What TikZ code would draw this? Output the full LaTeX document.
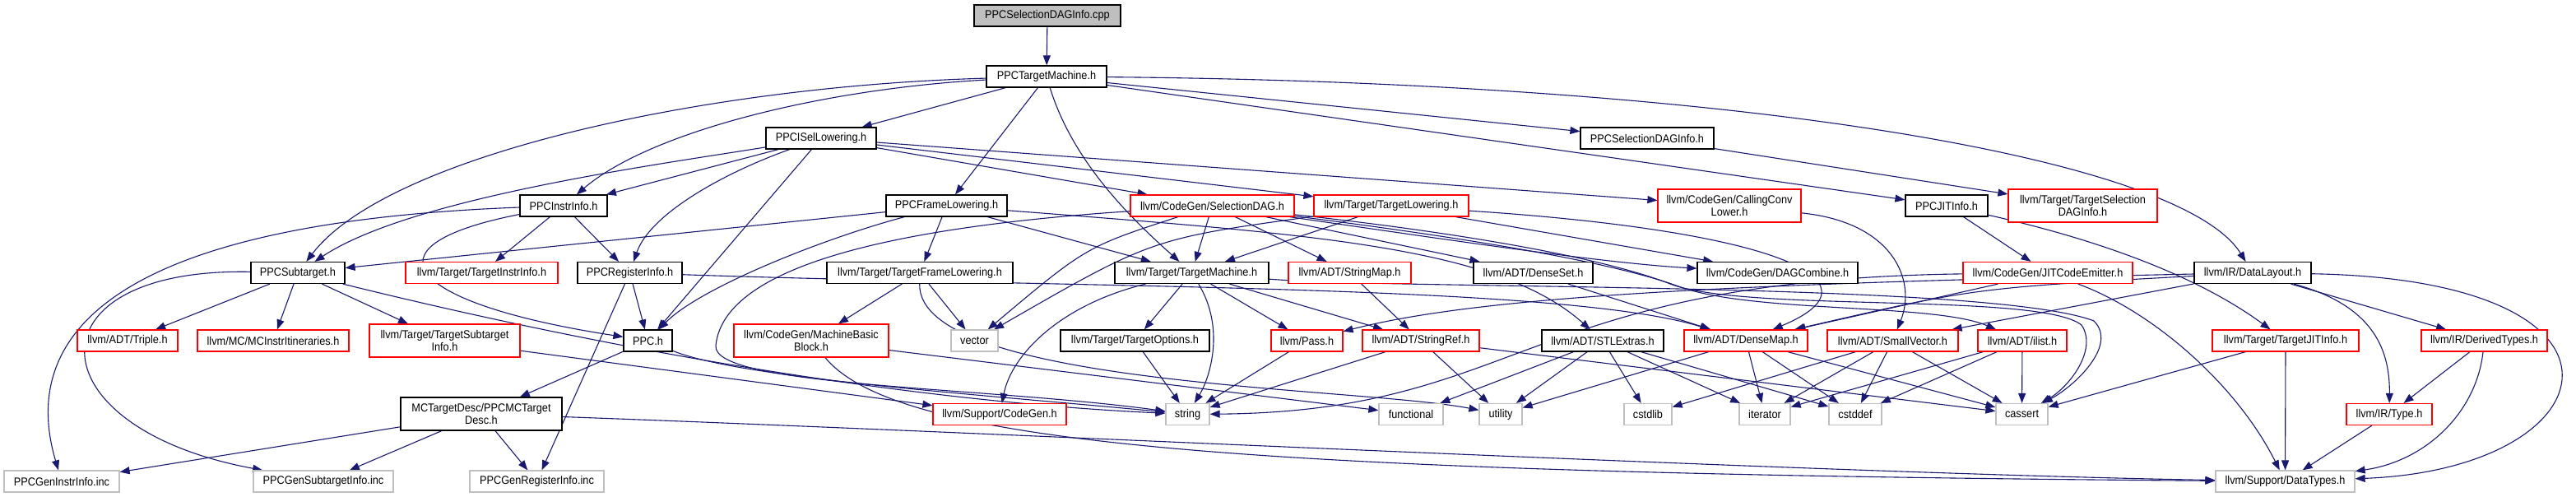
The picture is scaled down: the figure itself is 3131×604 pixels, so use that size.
\documentclass[tikz,border=0pt]{standalone}
\usepackage{fontspec}
\setmainfont{Liberation Sans}[FakeStretch=0.91]
\usetikzlibrary{arrows.meta}
\definecolor{edgec}{HTML}{191970}
\definecolor{grayb}{HTML}{BFBFBF}
\pgfdeclarelayer{bg}
\pgfsetlayers{bg,main}
\tikzset{
 bx/.style={draw=black, line width=1.2bp, inner sep=0pt, minimum height=26bp, font=\fontsize{14bp}{15bp}\selectfont, align=center, fill=white},
 rbx/.style={bx, draw=red},
 gbx/.style={bx, draw=grayb},
 tall/.style={minimum height=40bp},
 ed/.style={draw=edgec, line width=1.1bp, -{Triangle[length=12bp,width=9bp]}},
}
\begin{document}
\begin{tikzpicture}[x=1bp,y=-1bp]
\useasboundingbox (0,0) rectangle (3131,604);
% row 0
\node[bx, fill=grayb, minimum width=178bp] (root) at (1273,19) {PPCSelectionDAGInfo.cpp};
% row 1
\node[bx, minimum width=146bp] (tm) at (1272,93) {PPCTargetMachine.h};
% row 2
\node[bx, minimum width=134bp] (isel) at (998,168) {PPCISelLowering.h};
\node[bx, minimum width=162bp] (sdaginfo) at (2002,168) {PPCSelectionDAGInfo.h};
% row 3
\node[bx, minimum width=106bp] (instr) at (685,250) {PPCInstrInfo.h};
\node[bx, minimum width=147bp] (frame) at (1150.5,250) {PPCFrameLowering.h};
\node[rbx, minimum width=199bp] (seldag) at (1473.5,250) {llvm/CodeGen/SelectionDAG.h};
\node[rbx, minimum width=188bp] (tlow) at (1691,250) {llvm/Target/TargetLowering.h};
\node[rbx, tall, minimum width=174bp] (ccl) at (2102,250) {llvm/CodeGen/CallingConv\\Lower.h};
\node[bx, minimum width=100bp] (jit) at (2366,250) {PPCJITInfo.h};
\node[rbx, tall, minimum width=181bp] (tsdi) at (2531.5,250) {llvm/Target/TargetSelection\\DAGInfo.h};
% row 4
\node[bx, minimum width=114bp] (sub) at (362,331.5) {PPCSubtarget.h};
\node[rbx, minimum width=185bp] (tii) at (585.5,331.5) {llvm/Target/TargetInstrInfo.h};
\node[bx, minimum width=127bp] (reg) at (765.5,331.5) {PPCRegisterInfo.h};
\node[bx, minimum width=226bp] (tfl) at (1118,331.5) {llvm/Target/TargetFrameLowering.h};
\node[bx, minimum width=187bp] (tmach) at (1448.5,331.5) {llvm/Target/TargetMachine.h};
\node[rbx, minimum width=149bp] (smap) at (1640.5,331.5) {llvm/ADT/StringMap.h};
\node[bx, minimum width=145bp] (dset) at (1863.5,331.5) {llvm/ADT/DenseSet.h};
\node[bx, minimum width=195bp] (dagc) at (2160.5,331.5) {llvm/CodeGen/DAGCombine.h};
\node[rbx, minimum width=206bp] (jce) at (2489,331.5) {llvm/CodeGen/JITCodeEmitter.h};
\node[bx, minimum width=142bp] (dl) at (2738,331.5) {llvm/IR/DataLayout.h};
% row 5
\node[rbx, minimum width=122bp] (triple) at (155,414) {llvm/ADT/Triple.h};
\node[rbx, minimum width=184bp] (mcii) at (332,414) {llvm/MC/MCInstrItineraries.h};
\node[rbx, tall, minimum width=183bp] (tsi) at (540.5,414) {llvm/Target/TargetSubtarget\\Info.h};
\node[bx, minimum width=59bp] (ppch) at (787.5,414) {PPC.h};
\node[rbx, tall, minimum width=188bp] (mbb) at (986,414) {llvm/CodeGen/MachineBasic\\Block.h};
\node[gbx, minimum width=57bp] (vector) at (1184.5,414) {vector};
\node[bx, minimum width=181bp] (topt) at (1379.5,414) {llvm/Target/TargetOptions.h};
\node[rbx, minimum width=87bp] (pass) at (1588.5,414) {llvm/Pass.h};
\node[rbx, minimum width=142bp] (sref) at (1727,414) {llvm/ADT/StringRef.h};
\node[bx, minimum width=148bp] (stl) at (1948,414) {llvm/ADT/STLExtras.h};
\node[rbx, minimum width=150bp] (dmap) at (2122,414) {llvm/ADT/DenseMap.h};
\node[rbx, minimum width=159bp] (svec) at (2300.5,414) {llvm/ADT/SmallVector.h};
\node[rbx, minimum width=108bp] (ilist) at (2458,414) {llvm/ADT/ilist.h};
\node[rbx, minimum width=178bp] (tjit) at (2778,414) {llvm/Target/TargetJITInfo.h};
\node[rbx, minimum width=153bp] (dtypes) at (3019.5,414) {llvm/IR/DerivedTypes.h};
% row 6
\node[bx, tall, minimum width=196bp] (mctd) at (585,503) {MCTargetDesc/PPCMCTarget\\Desc.h};
\node[rbx, minimum width=162bp] (cgen) at (1215,503.5) {llvm/Support/CodeGen.h};
\node[gbx, minimum width=53bp] (string) at (1443.5,503.5) {string};
\node[gbx, minimum width=78bp] (functional) at (1715,503.5) {functional};
\node[gbx, minimum width=52bp] (utility) at (1824,503.5) {utility};
\node[gbx, minimum width=58bp] (cstdlib) at (2003,503.5) {cstdlib};
\node[gbx, minimum width=62bp] (iterator) at (2145,503.5) {iterator};
\node[gbx, minimum width=64bp] (cstddef) at (2255,503.5) {cstddef};
\node[gbx, minimum width=63bp] (cassert) at (2457.5,503.5) {cassert};
\node[rbx, minimum width=104bp] (type) at (2904,503.5) {llvm/IR/Type.h};
% row 7
\node[gbx, minimum width=140bp] (genii) at (75,585) {PPCGenInstrInfo.inc};
\node[gbx, minimum width=170bp] (gensti) at (393,585) {PPCGenSubtargetInfo.inc};
\node[gbx, minimum width=163bp] (genri) at (652.5,585) {PPCGenRegisterInfo.inc};
\node[gbx, minimum width=169bp] (datatypes) at (2777.5,585) {llvm/Support/DataTypes.h};

\begin{pgfonlayer}{bg}
\draw[ed] (root) -- (tm);
\draw[ed] (tm) -- (isel);
\draw[ed] (tm) -- (frame);
\draw[ed] (tm) .. controls (1305,200) and (1380,270) .. (tmach);
\draw[ed] (tm) .. controls (1000,108) and (790,160) .. (instr);
\draw[ed] (tm) .. controls (850,105) and (470,190) .. (sub);
\draw[ed] (tm) -- (sdaginfo);
\draw[ed] (tm) -- (jit);
\draw[ed] (tm) .. controls (2100,100) and (2650,190) .. (dl);

\draw[ed] (isel) -- (instr);
\draw[ed] (isel) .. controls (800,200) and (500,240) .. (sub);
\draw[ed] (isel) .. controls (880,210) and (790,260) .. (reg);
\draw[ed] (isel) -- (ppch);
\draw[ed] (isel) -- (seldag);
\draw[ed] (isel) -- (tlow);
\draw[ed] (isel) -- (ccl);

\draw[ed] (instr) -- (tii);
\draw[ed] (instr) -- (reg);
\draw[ed] (instr) .. controls (430,300) and (500,370) .. (ppch);
\draw[ed] (instr) .. controls (150,270) and (20,400) .. (genii);

\draw[ed] (reg) -- (ppch);
\draw[ed] (reg) -- (genri);
\draw[ed] (reg) .. controls (1300,350) and (1900,345) .. (dmap);

\draw[ed] (sub) -- (triple);
\draw[ed] (sub) -- (mcii);
\draw[ed] (sub) -- (tsi);
\draw[ed] (sub) .. controls (30,325) and (40,520) .. (gensti);
\draw[ed] (sub) .. controls (800,440) and (1150,490) .. (string);

\draw[ed] (tsi) -- (cgen);
\draw[ed] (ppch) -- (mctd);
\draw[ed] (ppch) .. controls (900,460) and (1200,480) .. (string);
\draw[ed] (mctd) -- (genii);
\draw[ed] (mctd) -- (gensti);
\draw[ed] (mctd) -- (genri);
\draw[ed] (mctd) .. controls (1200,525) and (2200,575) .. (datatypes);
\draw[ed] (mbb) -- (functional);
\draw[ed] (mbb) .. controls (1090,540) and (1500,575) .. (datatypes);
\draw[ed] (tfl) -- (mbb);
\draw[ed] (tfl) -- (vector);
\draw[ed] (tfl) .. controls (1115,470) and (1650,470) .. (utility);

\draw[ed] (frame) .. controls (1000,290) and (850,350) .. (ppch);
\draw[ed] (frame) -- (sub);
\draw[ed] (frame) -- (tfl);
\draw[ed] (frame) -- (tmach);
\draw[ed] (frame) .. controls (1600,285) and (1820,300) .. (stl);

\draw[ed] (seldag) -- (tmach);
\draw[ed] (seldag) -- (smap);
\draw[ed] (seldag) -- (dset);
\draw[ed] (seldag) .. controls (1320,300) .. (vector);
\draw[ed] (seldag) .. controls (1100,275) and (880,320) .. (870,420) .. controls (865,470) and (1200,470) .. (string);
\draw[ed] (seldag) .. controls (1750,290) and (1950,320) .. (dagc);
\draw[ed] (seldag) .. controls (1750,285) and (1950,315) .. (2040,348) .. controls (2130,381) and (2350,368) .. (ilist);
\draw[ed] (seldag) .. controls (1750,280) and (1940,310) .. (2030,345) .. controls (2120,380) and (2480,355) .. (2530,395) .. controls (2550,425) and (2515,470) .. (cassert);

\draw[ed] (tlow) -- (tmach);
\draw[ed] (tlow) -- (dagc);
\draw[ed] (tlow) .. controls (2150,280) and (2300,340) .. (dmap);
\draw[ed] (tlow) .. controls (1400,290) .. (vector);
\draw[ed] (ccl) .. controls (2300,270) and (2330,340) .. (svec);
\draw[ed] (jit) -- (jce);
\draw[ed] (jit) .. controls (2500,280) and (2650,320) .. (tjit);
\draw[ed] (sdaginfo) -- (tsdi);

\draw[ed] (tmach) .. controls (1290,370) and (1230,430) .. (cgen);
\draw[ed] (tmach) -- (topt);
\draw[ed] (tmach) .. controls (1490,400) and (1470,460) .. (string);
\draw[ed] (tmach) -- (pass);
\draw[ed] (tmach) -- (sref);
\draw[ed] (tmach) .. controls (1700,352) and (2420,342) .. (2545,390) .. controls (2575,420) and (2520,470) .. (cassert);
\draw[ed] (topt) -- (string);
\draw[ed] (pass) -- (string);
\draw[ed] (sref) -- (string);
\draw[ed] (sref) -- (utility);
\draw[ed] (sref) -- (cassert);
\draw[ed] (smap) -- (sref);
\draw[ed] (dset) -- (dmap);

\draw[ed] (stl) -- (functional);
\draw[ed] (stl) -- (utility);
\draw[ed] (stl) -- (cstdlib);
\draw[ed] (stl) -- (iterator);
\draw[ed] (stl) -- (cstddef);
\draw[ed] (dmap) -- (utility);
\draw[ed] (dmap) -- (iterator);
\draw[ed] (dmap) -- (cstddef);
\draw[ed] (dmap) -- (cassert);
\draw[ed] (svec) -- (cstdlib);
\draw[ed] (svec) -- (iterator);
\draw[ed] (svec) -- (cstddef);
\draw[ed] (svec) -- (cassert);
\draw[ed] (ilist) -- (cassert);
\draw[ed] (ilist) -- (iterator);
\draw[ed] (ilist) -- (cstddef);

\draw[ed] (jce) -- (dmap);
\draw[ed] (jce) .. controls (1850,340) and (1850,500) .. (string);
\draw[ed] (jce) .. controls (2620,380) and (2720,470) .. (datatypes);
\draw[ed] (dl) .. controls (2100,345) and (1800,360) .. (pass);
\draw[ed] (dl) .. controls (2400,350) .. (dmap);
\draw[ed] (dl) -- (svec);
\draw[ed] (dl) -- (dtypes);
\draw[ed] (dl) .. controls (2880,370) and (2905,420) .. (type);
\draw[ed] (dl) .. controls (3235,340) and (3175,570) .. (datatypes);
\draw[ed] (tjit) -- (cassert);
\draw[ed] (tjit) -- (datatypes);
\draw[ed] (dtypes) -- (type);
\draw[ed] (dtypes) .. controls (3010,500) and (2950,560) .. (datatypes);
\draw[ed] (type) -- (datatypes);
\end{pgfonlayer}
\end{tikzpicture}
\end{document}
